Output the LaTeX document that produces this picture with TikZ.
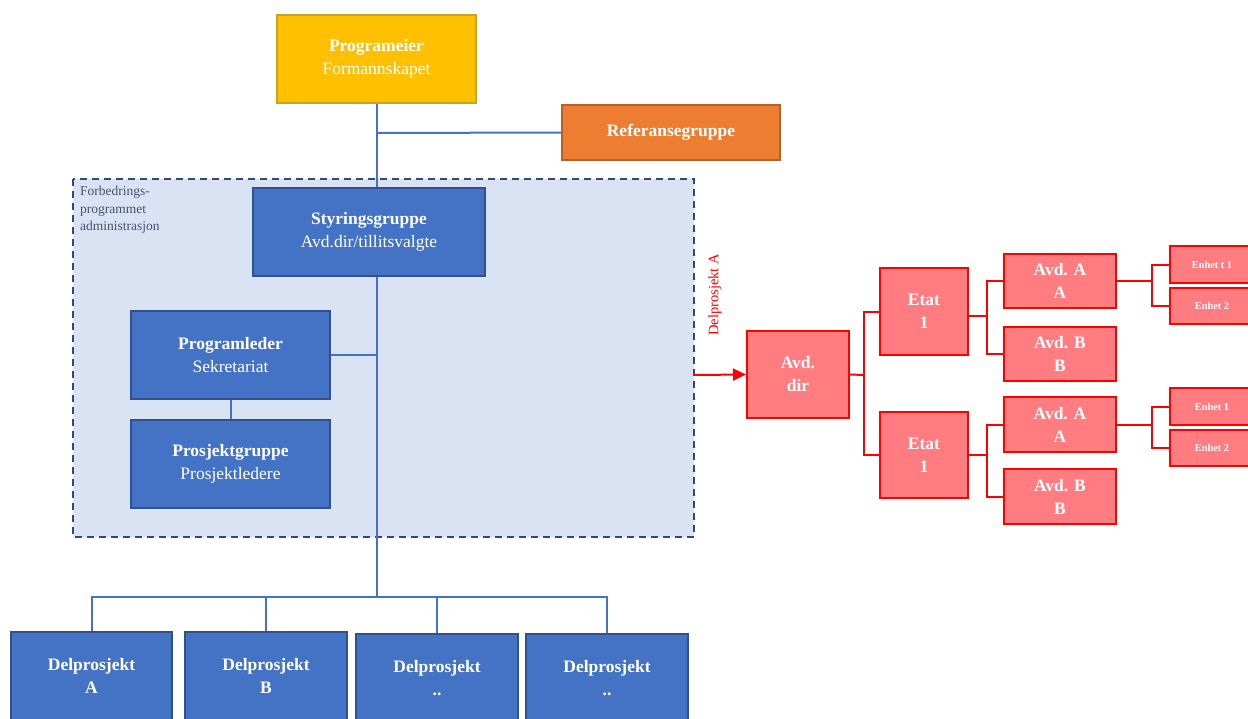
\documentclass[tikz,border=0pt]{standalone}
\usepackage{fontspec}
\setmainfont{Liberation Serif}
\usepackage{xcolor}
\usetikzlibrary{arrows.meta}

\definecolor{eierGold}{HTML}{FFC000}
\definecolor{eierEdge}{HTML}{C9A227}
\definecolor{refOrange}{HTML}{ED7D31}
\definecolor{refEdge}{HTML}{B9602A}
\definecolor{orgBlue}{HTML}{4472C4}
\definecolor{orgEdge}{HTML}{2F528F}
\definecolor{adminFill}{HTML}{DAE3F3}
\definecolor{adminEdge}{HTML}{2E4A78}
\definecolor{adminText}{HTML}{44546A}
\definecolor{delPink}{HTML}{FF7C80}
\definecolor{delRed}{HTML}{FF0000}

\begin{document}
\begin{tikzpicture}[
  x=1pt, y=-1pt,
  orgbox/.style={draw=orgEdge, fill=orgBlue, line width=2pt, text=white, align=center,
    font=\fontsize{17.5}{23}\selectfont, inner sep=0pt},
  redbox/.style={draw=delRed, fill=delPink, line width=2pt, text=white, align=center,
    font=\bfseries\fontsize{17.5}{23}\selectfont, inner sep=0pt},
  tinybox/.style={redbox, font=\bfseries\fontsize{10.3}{12}\selectfont},
  bluelink/.style={draw=orgBlue, line width=2pt},
  redlink/.style={draw=delRed, line width=2pt}
]
  \useasboundingbox (0,0) rectangle (1248,718);

  % administrasjon
  \draw[fill=adminFill, draw=adminEdge, line width=2pt, dash pattern=on 7pt off 5pt]
    (73,179) rectangle (694,537);
  \node[anchor=north west, align=left, text=adminText, inner sep=0pt,
    font=\fontsize{13.5}{17.5}\selectfont] (adminlbl) at (80,186)
    {Forbedrings-\\programmet\\administrasjon};

  % top
  \node[orgbox, draw=eierEdge, fill=eierGold, minimum width=199pt, minimum height=88pt]
    (prog) at (376.5,59) {\textbf{Programeier}\\Formannskapet};
  \node[orgbox, draw=refEdge, fill=refOrange, minimum width=218pt, minimum height=55pt]
    (ref) at (671,132.5) {\textbf{Referansegruppe}};

  \node[orgbox, minimum width=232pt, minimum height=88pt] (styr) at (369,232)
    {\textbf{Styringsgruppe}\\Avd.dir/tillitsvalgte};
  \node[orgbox, minimum width=199pt, minimum height=88pt] (pleder) at (230.5,355)
    {\textbf{Programleder}\\Sekretariat};
  \node[orgbox, minimum width=199pt, minimum height=88pt] (pgruppe) at (230.5,464)
    {\textbf{Prosjektgruppe}\\Prosjektledere};

  % delprosjekter
  \node[orgbox, minimum width=161pt, minimum height=88pt] (dpA) at (91.5,676) {\textbf{Delprosjekt}\\\textbf{A}};
  \node[orgbox, minimum width=162pt, minimum height=88pt] (dpB) at (266,676) {\textbf{Delprosjekt}\\\textbf{B}};
  \node[orgbox, minimum width=162pt, minimum height=88pt] (dpC) at (437,678) {\textbf{Delprosjekt}\\\textbf{..}};
  \node[orgbox, minimum width=162pt, minimum height=88pt] (dpD) at (607,678) {\textbf{Delprosjekt}\\\textbf{..}};

  \coordinate (bus) at (377,597);
  \coordinate (refjoin) at (377,133);

  \draw[bluelink] (prog.south) -- (prog.south |- styr.north);
  \draw[bluelink] (refjoin) -- (ref.west);
  \draw[bluelink] (styr.south -| bus) -- (bus);
  \draw[bluelink] (pleder.east) -- (pleder.east -| bus);
  \draw[bluelink] (pleder.south) -- (pgruppe.north);
  \draw[bluelink] (dpA.north) |- (bus) -| (dpD.north);
  \draw[bluelink] (dpB.north) -- (dpB.north |- bus);
  \draw[bluelink] (dpC.north) -- (dpC.north |- bus);

  % delprosjekt A
  \coordinate (admright) at (694,375);
  \node[redbox, minimum width=102pt, minimum height=87pt] (avddir) at (798,374.5) {Avd.\\dir};
  \draw[redlink, -{Triangle[length=13pt, width=12pt]}] (admright) -- (avddir.west);
  \node[rotate=90, text=delRed, font=\fontsize{14.5}{16}\selectfont, inner sep=0pt]
    (dplbl) at (715,295) {Delprosjekt A};

  \node[redbox, minimum width=88pt, minimum height=87pt] (etat1) at (924,311.5) {Etat\\1};
  \node[redbox, minimum width=88pt, minimum height=86pt] (etat2) at (924,455) {Etat\\1};
  \coordinate (splitA) at (864,375);
  \draw[redlink] (avddir.east) -- (splitA);
  \draw[redlink] (etat1.west) -| (splitA) |- (etat2.west);

  \node[redbox, minimum width=112pt, minimum height=54pt] (avdA1) at (1060,281) {Avd. A\\A};
  \node[redbox, minimum width=112pt, minimum height=54pt] (avdB1) at (1060,354) {Avd. B\\B};
  \node[redbox, minimum width=112pt, minimum height=55pt] (avdA2) at (1060,424.5) {Avd. A\\A};
  \node[redbox, minimum width=112pt, minimum height=55pt] (avdB2) at (1060,496.5) {Avd. B\\B};
  \coordinate (splitB) at (987,316);
  \coordinate (splitC) at (987,455);
  \draw[redlink] (etat1.east |- splitB) -- (splitB);
  \draw[redlink] (avdA1.west) -| (splitB) |- (avdB1.west);
  \draw[redlink] (etat2.east) -- (splitC);
  \draw[redlink] (avdA2.west) -| (splitC) |- (avdB2.west);

  \node[tinybox, minimum width=84pt, minimum height=37pt] (enh11) at (1212,264.5) {Enhet t 1};
  \node[tinybox, minimum width=84pt, minimum height=36pt] (enh12) at (1212,305.5) {Enhet 2};
  \node[tinybox, minimum width=84pt, minimum height=37pt] (enh21) at (1212,406.5) {Enhet 1};
  \node[tinybox, minimum width=84pt, minimum height=36pt] (enh22) at (1212,447.5) {Enhet 2};
  \coordinate (splitD) at (1152,281);
  \coordinate (splitE) at (1152,425);
  \draw[redlink] (avdA1.east) -- (splitD);
  \draw[redlink] (enh11.west) -| (splitD) |- (enh12.west);
  \draw[redlink] (avdA2.east |- splitE) -- (splitE);
  \draw[redlink] (enh21.west) -| (splitE) |- (enh22.west);
\end{tikzpicture}
\end{document}
